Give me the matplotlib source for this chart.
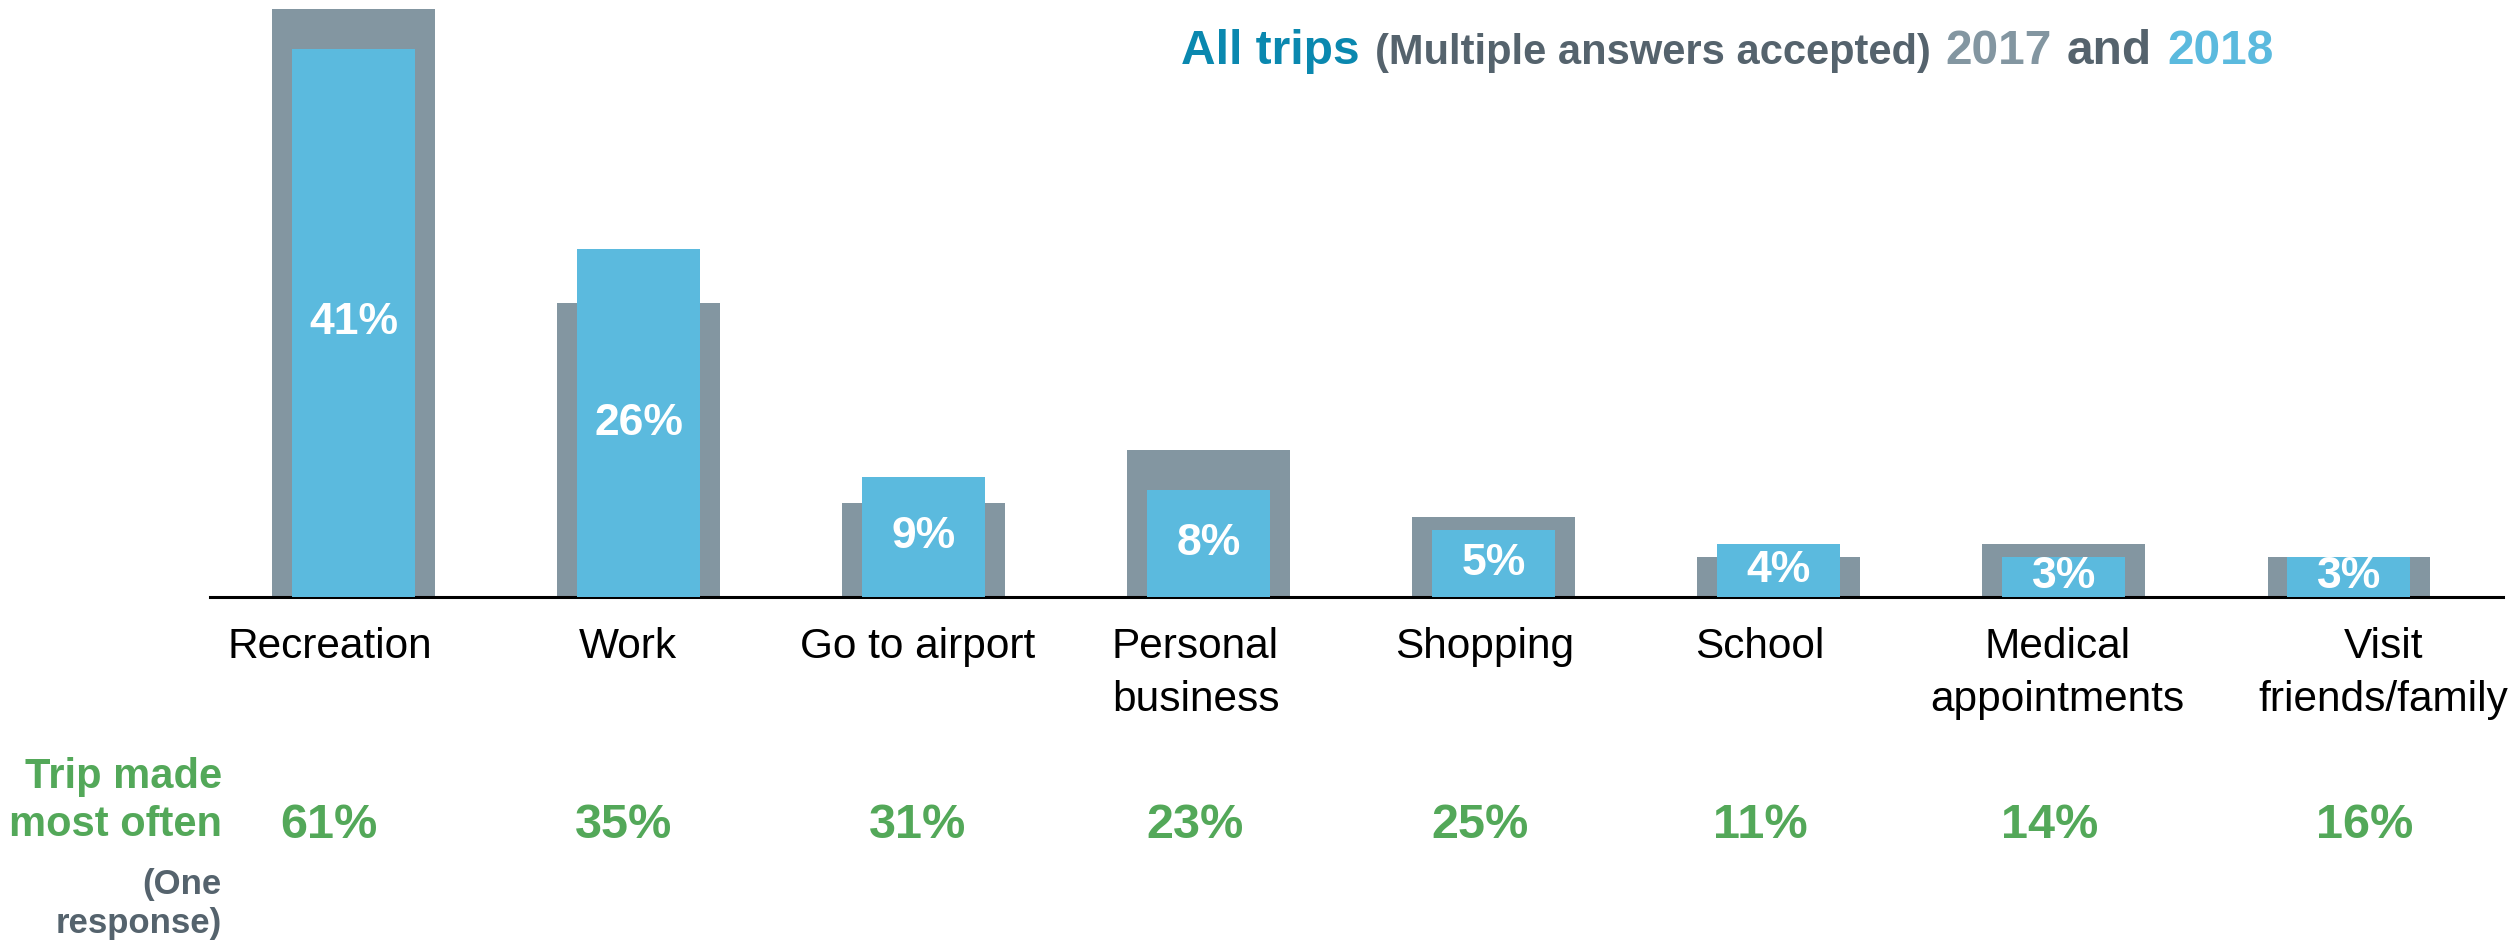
import matplotlib
matplotlib.use("Agg")
import matplotlib.pyplot as plt

# ---------------- data ----------------
categories = ["Recreation", "Work", "Go to airport", "Personal\nbusiness",
              "Shopping", "School", "Medical\nappointments", "Visit\nfriends/family"]
values_2017 = [44, 22, 7, 11, 6, 3, 4, 3]
values_2018 = [41, 26, 9, 8, 5, 4, 3, 3]
most_often = [61, 35, 31, 23, 25, 11, 14, 16]

# ---------------- style / layout ----------------
GRAY = "#8396A1"
BLUE = "#5BBADE"
GREEN = "#53A859"
DARK = "#55636D"
TEAL = "#0A88AF"

plt.rcParams["font.family"] = ["Liberation Sans", "DejaVu Sans"]

W, H = 2517, 943
fig = plt.figure(figsize=(W / 100, H / 100), dpi=100)
fig.patch.set_facecolor("white")

ax_left, ax_right, ax_base = 210, 2503, 597
ax = fig.add_axes([ax_left / W, 1 - ax_base / H, (ax_right - ax_left) / W, ax_base / H])

x = list(range(len(categories)))
ax.bar(x, values_2017, width=0.57, color=GRAY, zorder=2)
bars18 = ax.bar(x, values_2018, width=0.43, color=BLUE, zorder=3)
ax.bar_label(bars18, labels=[f"{v}%" for v in values_2018], label_type="center",
             color="white", fontsize=32, fontweight="bold", zorder=4)

ax.set_xlim(-0.503, 7.541)
ax.set_ylim(0, 44.65)
for s in ["top", "right", "left"]:
    ax.spines[s].set_visible(False)
ax.spines["bottom"].set_linewidth(2.2)
ax.spines["bottom"].set_color("black")
ax.set_xticks([])
ax.set_yticks([])
ax.patch.set_alpha(0)

# category labels (pixel offsets of the text columns relative to bar centres)
label_dx = [-24, -11, -6, -13, -9, -19, -6, 35]
for i, (cat, dx) in enumerate(zip(categories, label_dx)):
    for j, line in enumerate(cat.split("\n")):
        ax.annotate(line, xy=(i, 0), xycoords=("data", "axes fraction"),
                    xytext=(dx, -(61 + 53 * j)), textcoords="offset pixels",
                    ha="center", va="baseline", fontsize=30.5, color="black",
                    annotation_clip=False)

# "trip made most often" row
value_dx = [-25, -15, -6, -14, -14, -18, -14, 16]
for i, (v, dx) in enumerate(zip(most_often, value_dx)):
    ax.annotate(f"{v}%", xy=(i, 0), xycoords=("data", "axes fraction"),
                xytext=(dx, -241), textcoords="offset pixels",
                ha="center", va="baseline", fontsize=35, fontweight="bold",
                color=GREEN, annotation_clip=False)

rx = 222 / W
fig.text(rx, 1 - 788 / H, "Trip made", ha="right", va="baseline",
         fontsize=30, fontweight="bold", color=GREEN)
fig.text(rx, 1 - 836 / H, "most often", ha="right", va="baseline",
         fontsize=30, fontweight="bold", color=GREEN)
fig.text(rx, 1 - 894 / H, "(One", ha="right", va="baseline",
         fontsize=25, fontweight="bold", color=DARK)
fig.text(rx, 1 - 933 / H, "response)", ha="right", va="baseline",
         fontsize=25, fontweight="bold", color=DARK)

# title built from coloured segments
segments = [("All trips", 34.5, TEAL),
            ("(Multiple answers accepted)", 30, DARK),
            ("2017", 34.5, GRAY),
            ("and", 34.5, DARK),
            ("2018", 34.5, BLUE)]
renderer = fig.canvas.get_renderer()
xpos = 1181
gap = 15
for txt, fs, col in segments:
    t = fig.text(xpos / W, 1 - 64 / H, txt, ha="left", va="baseline",
                 fontsize=fs, fontweight="bold", color=col)
    w = t.get_window_extent(renderer=renderer).width
    xpos += w + gap

fig.savefig("out.png", dpi=100, facecolor="white")
